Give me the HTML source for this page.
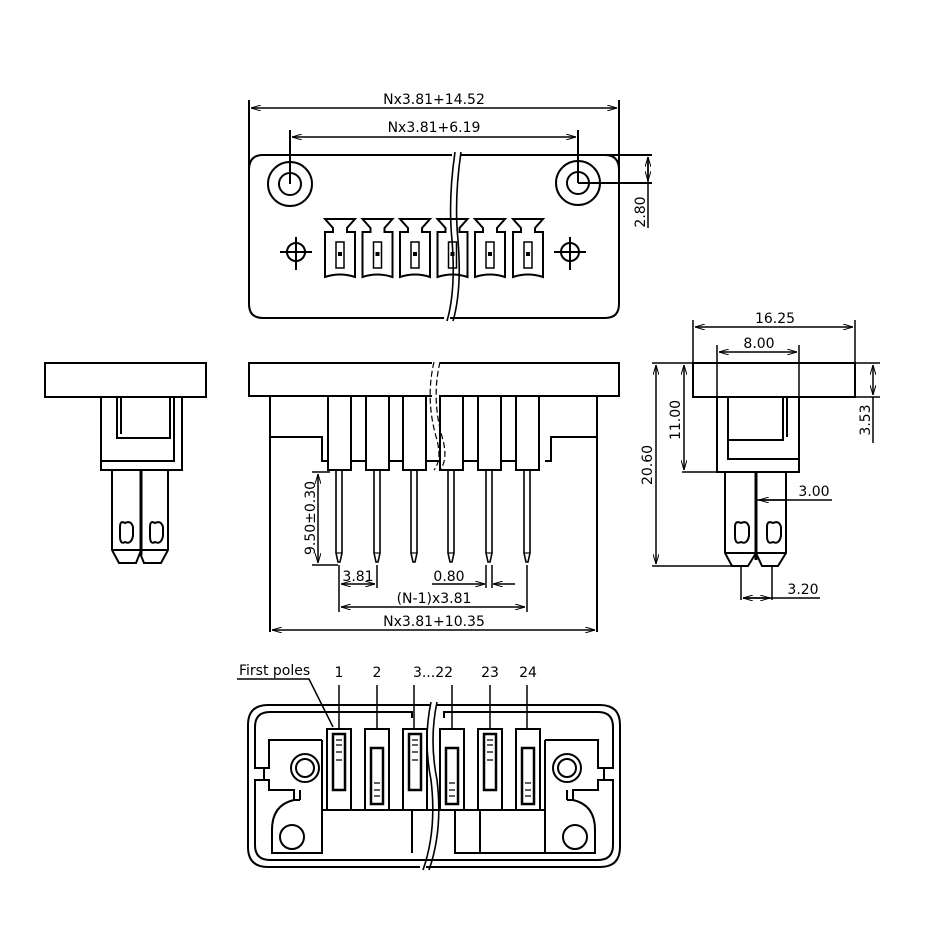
<!DOCTYPE html>
<html><head><meta charset="utf-8"><style>
html,body{margin:0;padding:0;background:#fff}
svg{display:block}
text{font-family:"DejaVu Sans","Liberation Sans",sans-serif;font-size:14px;fill:#000}
</style></head><body>
<svg width="946" height="946" viewBox="0 0 946 946" xmlns="http://www.w3.org/2000/svg">
<defs>
<marker id="a" viewBox="0 0 10 6" refX="10" refY="3" markerWidth="10" markerHeight="6" orient="auto-start-reverse" markerUnits="userSpaceOnUse"><path d="M0,0 L10,3 L0,6" fill="none" stroke="#000" stroke-width="1"/></marker>
</defs>
<g fill="none" stroke="#000" stroke-width="2">
<!-- TOP VIEW -->
<line x1="249" y1="100" x2="249" y2="170"/>
<line x1="619" y1="100" x2="619" y2="170"/>
<line x1="251" y1="108" x2="617" y2="108" stroke-width="1.5" marker-start="url(#a)" marker-end="url(#a)"/>
<line x1="290" y1="130" x2="290" y2="184"/>
<line x1="578" y1="130" x2="578" y2="183"/>
<line x1="292" y1="137" x2="576" y2="137" stroke-width="1.5" marker-start="url(#a)" marker-end="url(#a)"/>
<path d="M263,155 H452 M460,155 H605 Q619,155 619,170 V304 Q619,318 605,318 H450 M444,318 H263 Q249,318 249,304 V170 Q249,155 263,155"/>
<path d="M455,152 Q448,200 452,240 Q456,290 447,321 M461,152 Q454,200 458,240 Q462,290 453,321" stroke-width="1.6"/>
<circle cx="290" cy="184" r="22"/><circle cx="290" cy="184" r="11"/>
<circle cx="578" cy="183" r="22"/><circle cx="578" cy="183" r="11"/>
<line x1="578" y1="183" x2="652" y2="183"/>
<line x1="605" y1="155" x2="652" y2="155"/>
<line x1="648" y1="157" x2="648" y2="228" stroke-width="1.5"/>
<line x1="648" y1="157" x2="648" y2="181" stroke-width="1.5" marker-start="url(#a)" marker-end="url(#a)"/>
<circle cx="296" cy="252" r="9"/><line x1="280" y1="252" x2="312" y2="252"/><line x1="296" y1="237" x2="296" y2="270"/>
<circle cx="570" cy="252" r="9"/><line x1="554" y1="252" x2="586" y2="252"/><line x1="570" y1="237" x2="570" y2="270"/>
<g id="sk">
<path d="M325,219 H355 L347,228 V232 H355 V277 Q340,272 325,277 V232 H333 V228 Z"/>
<rect x="336" y="242" width="8" height="26" stroke-width="1.5"/>
<rect x="338" y="252" width="4" height="4" fill="#000" stroke="none"/>
</g>
<use href="#sk" x="37.5"/><use href="#sk" x="75"/><use href="#sk" x="112.5"/><use href="#sk" x="150"/><use href="#sk" x="188"/>

<!-- FRONT VIEW -->
<path d="M432,363 H249 V396 H432"/>
<path d="M440,363 H619 V396 H440"/>
<path d="M434,362 Q425,400 437,440 Q442,460 434,470 M440,362 Q431,400 443,440 Q448,460 440,470" stroke="#000" stroke-width="1.2" stroke-dasharray="6,3"/>
<path d="M270,396 V632 M597,396 V632"/>
<path d="M270,437 H322 V461 H328 M545,461 H551 V437 H597"/>
<g id="ph">
<rect x="328" y="396" width="23" height="74"/>
<path d="M336,470 V553 L338,562 H340 L342,553 V470" stroke-width="1.6"/>
<line x1="336" y1="553" x2="342" y2="553" stroke-width="1.2"/>
</g>
<use href="#ph" x="38"/><use href="#ph" x="75"/><use href="#ph" x="112"/><use href="#ph" x="150"/><use href="#ph" x="188"/>
<line x1="351" y1="461" x2="366" y2="461"/><line x1="389" y1="461" x2="403" y2="461"/><line x1="426" y1="461" x2="440" y2="461"/><line x1="464" y1="461" x2="478" y2="461"/><line x1="501" y1="461" x2="516" y2="461"/>
<line x1="312" y1="472" x2="330" y2="472" stroke-width="1.5"/>
<line x1="312" y1="565" x2="338" y2="565" stroke-width="1.5"/>
<line x1="318" y1="474" x2="318" y2="563" stroke-width="1.5" marker-start="url(#a)" marker-end="url(#a)"/>
<line x1="339" y1="565" x2="339" y2="612" stroke-width="1.5"/>
<line x1="377" y1="565" x2="377" y2="588" stroke-width="1.5"/>
<line x1="527" y1="565" x2="527" y2="612" stroke-width="1.5"/>
<line x1="486" y1="565" x2="486" y2="588" stroke-width="1.5"/>
<line x1="492" y1="565" x2="492" y2="588" stroke-width="1.5"/>
<line x1="341" y1="584" x2="375" y2="584" stroke-width="1.5" marker-start="url(#a)" marker-end="url(#a)"/>
<line x1="432" y1="584" x2="485" y2="584" stroke-width="1.5" marker-end="url(#a)"/>
<line x1="493" y1="584" x2="515" y2="584" stroke-width="1.5" marker-start="url(#a)"/>
<line x1="341" y1="607" x2="525" y2="607" stroke-width="1.5" marker-start="url(#a)" marker-end="url(#a)"/>
<line x1="272" y1="630" x2="595" y2="630" stroke-width="1.5" marker-start="url(#a)" marker-end="url(#a)"/>

<!-- LEFT SIDE VIEW -->
<rect x="45" y="363" width="161" height="34"/>
<path d="M101,397 V470 H182 V397 M117,397 V438 H170 V397 M121,397 V434 M101,461 H174 V397"/>
<path d="M112,470 V550 L119,563 H136 L140,553 L144,563 H161 L168,550 V470"/>
<path d="M112,550 H140 M141,550 H168"/>
<line x1="141" y1="470" x2="141" y2="555" stroke-width="3"/>
<path d="M125,523 Q131,520 133,527 V536 Q131,545 125,542 Q120,545 120,536 V527 Q120,520 125,523 Z"/>
<path d="M155,523 Q161,520 163,527 V536 Q161,545 155,542 Q150,545 150,536 V527 Q150,520 155,523 Z"/>

<!-- RIGHT SIDE VIEW -->
<rect x="693" y="363" width="162" height="34"/>
<path d="M717,397 V472 H799 V397 M728,397 V459 H799 M728,440 H783 V397 M787,397 V437"/>
<path d="M725,472 V553 L732,566 H748 L756,553 L762,566 H778 L786,553 V472"/>
<path d="M725,553 H756 M757,553 H786"/>
<line x1="756" y1="472" x2="756" y2="560" stroke-width="3"/>
<path d="M741,523 Q747,520 749,527 V536 Q747,545 741,542 Q735,545 735,536 V527 Q735,520 741,523 Z"/>
<path d="M773,523 Q779,520 781,527 V536 Q779,545 773,542 Q767,545 767,536 V527 Q767,520 773,523 Z"/>
<line x1="693" y1="320" x2="693" y2="363" stroke-width="1.5"/>
<line x1="855" y1="320" x2="855" y2="363" stroke-width="1.5"/>
<line x1="695" y1="327" x2="853" y2="327" stroke-width="1.5" marker-start="url(#a)" marker-end="url(#a)"/>
<line x1="717" y1="345" x2="717" y2="397" stroke-width="1.5"/>
<line x1="799" y1="345" x2="799" y2="397" stroke-width="1.5"/>
<line x1="719" y1="352" x2="797" y2="352" stroke-width="1.5" marker-start="url(#a)" marker-end="url(#a)"/>
<line x1="652" y1="363" x2="880" y2="363" stroke-width="1.5"/>
<line x1="855" y1="397" x2="880" y2="397" stroke-width="1.5"/>
<line x1="873" y1="365" x2="873" y2="395" stroke-width="1.5" marker-start="url(#a)" marker-end="url(#a)"/>
<line x1="873" y1="397" x2="873" y2="443" stroke-width="1.5"/>
<line x1="682" y1="472" x2="717" y2="472" stroke-width="1.5"/>
<line x1="684" y1="365" x2="684" y2="470" stroke-width="1.5" marker-start="url(#a)" marker-end="url(#a)"/>
<line x1="652" y1="566" x2="740" y2="566" stroke-width="1.5"/>
<line x1="656" y1="365" x2="656" y2="564" stroke-width="1.5" marker-start="url(#a)" marker-end="url(#a)"/>
<line x1="757" y1="500" x2="832" y2="500" stroke-width="1.5"/>
<line x1="759" y1="500" x2="786" y2="500" stroke-width="1.5" marker-start="url(#a)"/>
<line x1="741" y1="566" x2="741" y2="600" stroke-width="1.5"/>
<line x1="772" y1="566" x2="772" y2="600" stroke-width="1.5"/>
<line x1="743" y1="598" x2="820" y2="598" stroke-width="1.5"/>
<line x1="743" y1="598" x2="770" y2="598" stroke-width="1.5" marker-start="url(#a)" marker-end="url(#a)"/>

<!-- BOTTOM VIEW -->
<path d="M268,705 H430 M437,705 H600 Q620,705 620,725 V847 Q620,867 600,867 H426 M420,867 H268 Q248,867 248,847 V725 Q248,705 268,705"/>
<path d="M270,712 H412 V718 M444,718 V712 H598 Q613,712 613,727 V768 H604 V780 H613 V845 Q613,860 598,860 H270 Q255,860 255,845 V780 H264 V768 H255 V727 Q255,712 270,712"/>
<path d="M264,768 H269 V740 H322 M545,740 H598 V768 H604"/>
<path d="M264,780 H269 V790 H294 V800 Q272,805 272,830 L272,853 H322 V810 H412 V853 M322,740 V810 H545 V740 M545,810 V853 H595 V830 Q595,805 573,800 V790 H598 V780 H604"/>
<path d="M455,810 V853 H480 V810 M480,853 H545"/>
<path d="M294,800 H300 M567,800 H573"/>
<path d="M294,790 V800 M300,790 V800 M567,790 V800 M573,790 V800"/>
<circle cx="305" cy="768" r="14"/><circle cx="305" cy="768" r="9"/>
<circle cx="567" cy="768" r="14"/><circle cx="567" cy="768" r="9"/>
<circle cx="292" cy="837" r="12"/><circle cx="575" cy="837" r="12"/>
<path d="M431,702 Q423,740 431,780 Q437,830 423,870 M437,702 Q429,740 437,780 Q443,830 429,870" stroke-width="1.6"/>
<g id="bs">
<rect x="327" y="729" width="24" height="81" fill="#fff"/>
<rect x="333" y="734" width="12" height="56" stroke-width="2.5"/>
<path d="M336,740 H342 M336,745 H342 M336,752 H342 M336,760 H342" stroke-width="1.2"/>
</g>
<g id="bs2">
<rect x="365" y="729" width="24" height="81" fill="#fff"/>
<rect x="371" y="748" width="12" height="56" stroke-width="2.5"/>
<path d="M374,783 H380 M374,790 H380 M374,796 H380" stroke-width="1.2"/>
</g>
<use href="#bs" x="76"/><use href="#bs2" x="75"/><use href="#bs" x="151"/><use href="#bs2" x="151"/>
<line x1="339" y1="685" x2="339" y2="729" stroke-width="1.5"/>
<line x1="377" y1="685" x2="377" y2="729" stroke-width="1.5"/>
<line x1="414" y1="685" x2="414" y2="729" stroke-width="1.5"/>
<line x1="452" y1="685" x2="452" y2="729" stroke-width="1.5"/>
<line x1="490" y1="685" x2="490" y2="729" stroke-width="1.5"/>
<line x1="527" y1="685" x2="527" y2="729" stroke-width="1.5"/>
<path d="M237,679 H309 L333,727" stroke-width="1.5"/>
</g>
<g>
<text x="434" y="104" text-anchor="middle">Nx3.81+14.52</text>
<text x="434" y="132" text-anchor="middle">Nx3.81+6.19</text>
<text transform="translate(645,212) rotate(-90)" text-anchor="middle">2.80</text>
<text transform="translate(315,518) rotate(-90)" text-anchor="middle">9.50±0.30</text>
<text x="358" y="581" text-anchor="middle">3.81</text>
<text x="449" y="581" text-anchor="middle">0.80</text>
<text x="434" y="603" text-anchor="middle">(N-1)x3.81</text>
<text x="434" y="626" text-anchor="middle">Nx3.81+10.35</text>
<text x="775" y="323" text-anchor="middle">16.25</text>
<text x="759" y="348" text-anchor="middle">8.00</text>
<text transform="translate(870,420) rotate(-90)" text-anchor="middle">3.53</text>
<text transform="translate(680,420) rotate(-90)" text-anchor="middle">11.00</text>
<text transform="translate(652,465) rotate(-90)" text-anchor="middle">20.60</text>
<text x="814" y="496" text-anchor="middle">3.00</text>
<text x="803" y="594" text-anchor="middle">3.20</text>
<text x="239" y="675">First poles</text>
<text x="339" y="677" text-anchor="middle">1</text>
<text x="377" y="677" text-anchor="middle">2</text>
<text x="433" y="677" text-anchor="middle">3...22</text>
<text x="490" y="677" text-anchor="middle">23</text>
<text x="528" y="677" text-anchor="middle">24</text>
</g>
</svg>
</body></html>
